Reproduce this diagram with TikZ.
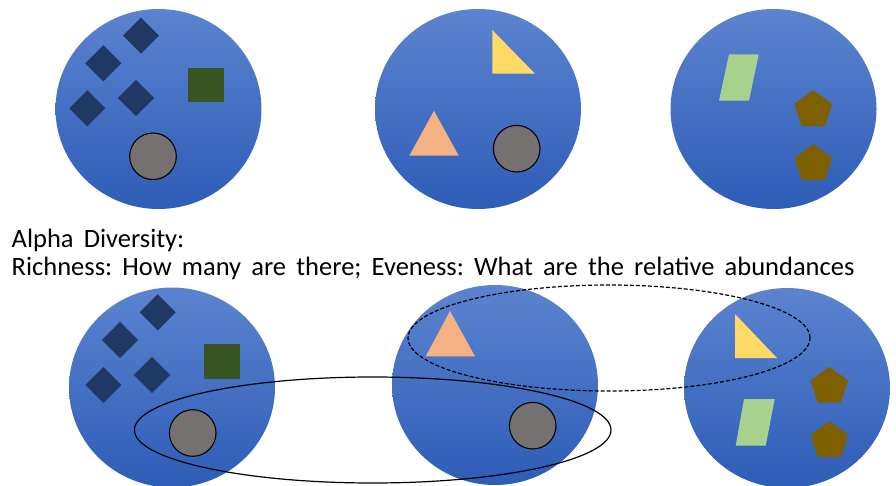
\documentclass[tikz,border=0pt]{standalone}
\usepackage{fontspec}
\setmainfont[WordSpace=1.7]{Carlito}
\usetikzlibrary{shapes.geometric}
\definecolor{blobtop}{HTML}{5B83CF}
\definecolor{blobbot}{HTML}{2E5DB7}
\definecolor{navy}{HTML}{203864}
\definecolor{moss}{HTML}{375623}
\definecolor{stone}{HTML}{767171}
\definecolor{sun}{HTML}{FFD966}
\definecolor{peach}{HTML}{F4B183}
\definecolor{leaf}{HTML}{A9D18E}
\definecolor{olive}{HTML}{7F6000}

\begin{document}
\frenchspacing
\begin{tikzpicture}[
  x=1pt, y=-1pt,
  site/.style={ellipse, minimum width=206pt, minimum height=200pt, inner sep=0pt,
               top color=blobtop, bottom color=blobbot},
  gem/.style={rectangle, rotate=45, fill=navy, minimum size=25.5pt, inner sep=0pt},
  block/.style={rectangle, fill=moss, minimum width=36pt, minimum height=34.5pt, inner sep=0pt},
  pebble/.style={circle, fill=stone, draw=black, line width=1.1pt, minimum size=46.6pt, inner sep=0pt},
  penta/.style={regular polygon, regular polygon sides=5, fill=olive, minimum size=39.6pt, inner sep=0pt},
  loop/.style={ellipse, draw=black, line width=1.2pt, inner sep=0pt},
  words/.style={anchor=base west, font=\fontsize{26.5}{30}\selectfont, inner sep=0pt}
]
\useasboundingbox (0,0) rectangle (896,486);

% top row
\node[site] (siteA) at (158.5,109) {};
\node[site] (siteB) at (478,109) {};
\node[site] (siteC) at (773.5,109) {};

\node[gem] (gemA1) at (141,35.7) {};
\node[gem] (gemA2) at (103.3,63.3) {};
\node[gem] (gemA3) at (87.3,108.3) {};
\node[gem] (gemA4) at (136,98) {};
\node[block] (blockA) at (205.5,85) {};
\node[pebble] (pebbleA) at (153,156.3) {};

\fill[sun] (492.3,30) -- (492.3,73.7) -- (535,73.7) -- cycle;
\fill[peach] (434,110.7) -- (409.3,155.7) -- (458.7,155.7) -- cycle;
\node[pebble] (pebbleB) at (516.7,148.7) {};

\fill[leaf] (729,54.3) -- (758.7,54.3) -- (749,100.7) -- (719,100.7) -- cycle;
\node[penta] (pentaC1) at (813.3,110) {};
\node[penta] (pentaC2) at (813.3,164) {};

% text
\node[words] (alpha) at (11.5,247.3) {Alpha Diversity:};
\node[words] (rich) at (11.5,275.3) {Richness: How many are there; Eveness: What are the relative abundances};

% bottom row
\node[site] (siteD) at (172,387.5) {};
\node[site] (siteE) at (495,385) {};
\node[site] (siteF) at (787,388) {};

\node[gem] (gemD1) at (157.7,312.3) {};
\node[gem] (gemD2) at (120,340) {};
\node[gem] (gemD3) at (103.3,385) {};
\node[gem] (gemD4) at (152,375) {};
\node[block] (blockD) at (221.8,361.3) {};
\node[pebble] (pebbleD) at (192.7,433) {};

\fill[peach] (450,311) -- (425.7,356.3) -- (475,356.3) -- cycle;
\node[pebble] (pebbleE) at (532.7,425.7) {};

\fill[sun] (735,314) -- (735,358) -- (777,358) -- cycle;
\fill[leaf] (744,399) -- (774.7,399) -- (765.7,445.7) -- (735.7,445.7) -- cycle;
\node[penta] (pentaF1) at (829.3,386.6) {};
\node[penta] (pentaF2) at (829.3,441) {};

% groupings
\node[loop, minimum width=476.6pt, minimum height=106pt] (same) at (372.7,430) {};
\node[loop, dash pattern=on 4pt off 2pt, minimum width=402pt, minimum height=106pt] (shared) at (609,338) {};
\end{tikzpicture}
\end{document}
